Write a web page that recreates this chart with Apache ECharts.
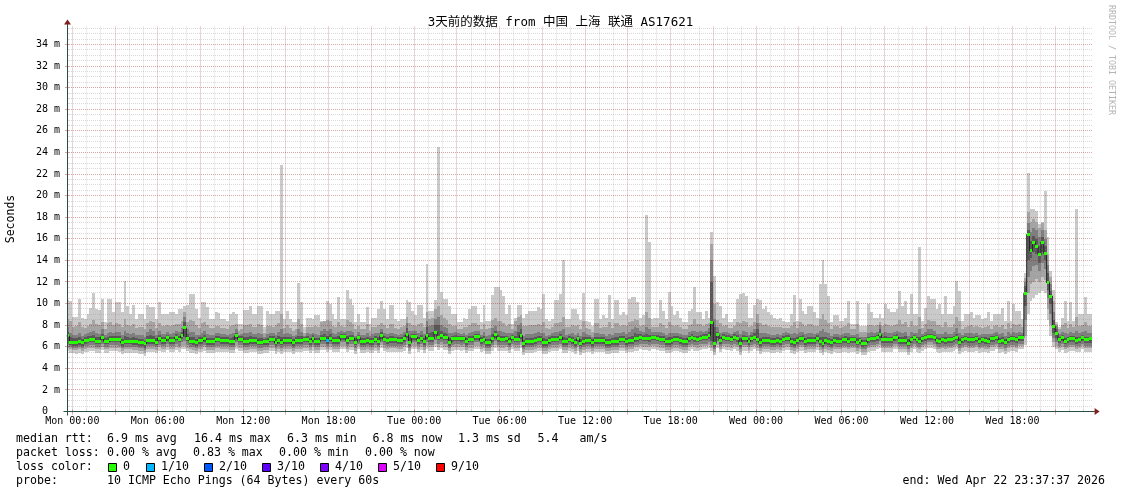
<!DOCTYPE html>
<html><head><meta charset="utf-8">
<script src="https://cdn.jsdelivr.net/npm/echarts@6/dist/echarts.min.js"></script>
<style>html,body{margin:0;padding:0;background:#fff}#c{width:1121px;height:494px}</style>
</head><body><div id="c"></div>
<script>
// ---------- data (hours relative to Mon 00:00; 12-minute steps) ----------
const STEP_START_H = -0.4;
const STEP_H = 0.2;
const X_MIN = -1343 / 3600;          // Sun 23:37:37
const X_MAX = 72 - 1343 / 3600;      // Wed 23:37:37
const Y_MAX = 35.67;
const dayNames = ['Mon', 'Tue', 'Wed'];
const xLabelHours = [0, 6, 12, 18, 24, 30, 36, 42, 48, 54, 60, 66];
const yLabelValues = [0, 2, 4, 6, 8, 10, 12, 14, 16, 18, 20, 22, 24, 26, 28, 30, 32, 34];

const medianRtt = [7.0,6.4,6.35,6.35,6.45,6.35,6.55,6.6,6.65,6.65,
6.5,6.5,6.9,6.5,6.5,6.65,6.65,6.65,6.65,6.36,
6.5,6.5,6.5,6.48,6.48,6.36,6.36,6.3,6.55,6.55,
6.55,6.42,6.8,6.57,6.57,6.85,6.57,6.57,6.88,6.67,
7.0,7.75,6.8,6.5,6.48,6.36,6.57,6.57,6.73,6.48,
6.48,6.48,6.64,6.64,6.57,6.57,6.57,6.48,6.48,7.0,
6.67,6.67,6.48,6.48,6.57,6.57,6.57,6.42,6.42,6.48,
6.48,6.67,6.67,6.36,6.57,6.42,6.57,6.57,6.57,6.36,
6.57,6.57,6.57,6.67,6.67,6.48,6.73,6.48,6.48,6.79,
6.79,6.57,6.79,6.57,6.57,6.57,6.94,6.94,6.57,6.79,
6.79,6.42,6.88,6.48,6.48,6.57,6.48,6.48,6.67,6.48,
7.04,6.67,6.57,6.64,6.64,6.64,6.57,6.57,6.73,7.1,
6.36,6.94,6.94,6.57,6.79,6.48,7.0,6.73,6.73,7.35,
6.88,7.04,6.88,6.88,6.36,6.73,6.79,6.79,6.73,6.79,
6.48,6.67,6.67,6.94,6.94,6.57,6.67,6.36,6.36,6.73,
7.1,6.73,6.67,6.67,6.73,6.48,6.88,6.67,6.67,7.04,
6.3,6.48,6.48,6.48,6.57,6.67,6.67,6.36,6.36,6.57,
6.67,6.67,6.67,6.88,6.48,6.48,6.67,6.57,6.36,6.73,
6.3,6.48,6.57,6.57,6.36,6.57,6.57,6.57,6.57,6.36,
6.36,6.48,6.48,6.48,6.67,6.67,6.48,6.57,6.57,6.73,
6.73,6.88,6.79,6.79,6.73,6.88,6.88,6.79,6.67,6.67,
6.48,6.48,6.57,6.67,6.67,6.57,6.48,6.48,6.73,6.88,
6.73,6.67,6.79,6.88,6.88,7.04,8.27,6.3,7.1,6.57,
6.88,6.79,6.79,6.67,6.88,6.73,6.3,6.73,6.73,6.48,
6.73,6.88,6.67,6.36,6.57,6.57,6.57,6.48,6.48,6.57,
6.48,6.67,6.79,6.79,6.48,6.36,6.57,6.73,6.73,6.48,
6.57,6.57,6.57,6.79,6.48,6.3,6.57,6.48,6.36,6.57,
6.52,6.52,6.64,6.64,6.52,6.64,6.64,6.42,6.57,6.3,
6.33,6.64,6.73,6.73,6.82,7.1,6.64,6.64,6.64,6.64,
6.82,6.88,6.57,6.57,6.57,6.33,6.64,6.88,6.64,6.52,
6.73,6.82,6.94,6.94,6.88,6.57,6.52,6.64,6.57,6.64,
6.64,6.73,6.88,6.42,6.64,6.73,6.64,6.64,6.64,6.73,
6.52,6.64,6.57,6.52,6.73,6.73,6.88,6.52,6.57,6.42,
6.64,6.73,6.73,6.64,6.82,6.82,10.96,16.4,14.9,15.7,
15.25,14.5,15.7,14.65,11.94,10.7,7.87,7.25,6.64,6.82,
6.52,6.64,6.73,6.73,6.57,6.64,6.82,6.64,6.64,6.8];

const ping10 = [10.3,10.2,8.8,8.8,10.4,8.7,8.6,9.0,9.6,11.0,
9.5,9.4,10.4,8.3,10.4,10.4,9.2,10.1,10.1,9.2,
12.1,9.8,9.0,9.9,8.6,9.0,9.0,8.6,9.9,9.7,
9.7,8.6,10.1,9.0,9.0,9.0,9.2,9.2,9.0,9.5,
9.5,9.8,9.9,10.9,10.9,9.5,8.7,10.1,10.1,9.7,
8.6,8.6,9.2,9.1,8.6,8.6,8.4,9.0,9.2,9.0,
8.1,8.1,9.4,9.4,9.8,9.0,9.0,9.8,9.8,7.8,
9.3,9.0,9.0,9.3,9.3,22.8,8.6,9.3,8.6,8.3,
8.3,11.9,10.1,7.8,8.7,8.7,8.6,8.9,8.9,8.4,
8.4,10.2,10.0,9.0,8.6,10.6,8.6,8.6,11.3,10.4,
9.9,8.3,9.0,8.3,8.3,9.7,8.1,8.7,8.7,9.5,
10.2,9.5,8.6,9.9,9.9,8.6,8.4,8.6,8.6,10.3,
10.1,9.35,8.9,9.9,9.9,8.7,13.7,9.35,9.35,10.3,
24.5,11.1,10.4,10.4,9.8,9.0,9.0,8.3,8.3,8.7,
8.6,9.5,9.8,9.8,9.0,8.3,9.9,8.4,8.4,10.8,
11.5,11.5,11.3,10.7,9.0,9.9,8.1,8.7,9.9,9.9,
8.7,9.0,9.35,9.35,9.35,9.66,9.5,10.9,8.6,8.4,
8.6,10.3,10.3,10.9,14.0,8.6,8.6,9.5,9.5,9.0,
8.5,11.0,8.4,8.3,7.96,10.4,10.4,8.6,8.9,8.7,
10.8,8.6,10.3,10.3,8.95,9.2,8.95,10.4,10.6,10.6,
10.1,8.7,8.9,18.2,15.7,8.6,8.7,8.7,10.3,9.35,
8.6,11.1,9.8,8.95,9.35,8.7,8.3,8.3,9.35,9.5,
11.5,9.2,9.2,8.6,9.35,8.7,16.6,12.6,10.1,9.8,
8.7,9.0,8.3,8.3,8.6,10.4,10.9,11.0,10.7,8.7,
8.7,9.9,10.4,10.3,9.5,9.8,9.2,8.9,8.7,8.6,
8.7,8.4,8.3,8.3,9.0,10.8,8.4,10.4,9.35,9.0,
9.8,9.8,9.2,8.7,11.8,14.0,11.8,10.7,8.3,8.9,
8.9,8.4,8.4,8.7,10.2,8.1,8.1,10.2,7.95,7.95,
7.95,10.0,9.2,8.7,8.7,9.0,8.7,10.0,9.5,9.2,
9.2,9.5,11.2,9.8,10.2,9.0,10.9,9.0,9.0,15.2,
8.4,9.6,10.7,10.4,10.4,9.5,9.95,9.0,10.7,9.0,
9.0,9.8,12.1,11.2,8.4,9.0,9.0,9.2,8.7,8.9,
8.9,8.6,8.7,9.2,8.4,9.0,9.0,9.0,9.6,8.4,
10.2,8.4,9.95,9.35,9.35,8.6,12.8,22.1,18.8,18.8,
18.6,17.4,17.6,20.4,16.2,13.0,11.3,8.3,7.8,8.7,
10.2,8.4,10.1,8.4,18.8,9.0,9.0,10.6,9.0,9.0];

const ping9 = [8.6,8.4,7.8,7.9,8.3,7.8,7.7,7.9,8.1,8.5,
8.1,8.0,8.3,7.6,8.2,8.3,8.0,8.2,8.1,7.8,
8.6,8.0,7.9,8.1,7.7,7.8,7.8,7.6,8.2,8.4,
8.3,7.7,8.2,7.9,7.9,8.0,7.9,8.0,8.1,8.1,
8.4,9.2,8.3,8.5,8.4,8.0,7.7,8.2,8.3,8.0,
7.7,7.7,7.9,7.9,7.7,7.7,7.6,7.9,8.0,8.1,
7.5,7.6,8.0,8.0,8.1,7.8,7.8,8.1,8.0,7.3,
7.9,7.9,7.8,8.0,8.2,9.0,7.7,8.0,7.7,7.5,
7.6,8.6,8.1,7.3,7.8,7.8,7.8,7.9,7.8,8.3,
8.4,8.5,8.4,7.9,7.8,8.3,7.9,7.8,8.5,8.3,
8.1,7.6,7.9,7.6,7.6,8.1,7.5,7.8,7.8,8.0,
8.2,8.0,7.7,8.1,8.1,7.7,7.6,7.8,7.9,8.8,
8.2,8.0,7.9,8.1,8.2,7.8,9.2,8.6,8.7,9.5,
9.8,8.9,8.7,8.5,8.1,7.9,7.9,7.6,7.6,7.8,
7.8,8.0,8.2,8.2,8.0,7.6,8.1,7.6,7.7,8.5,
8.7,8.4,8.4,8.2,7.9,8.1,7.6,8.4,8.8,8.9,
7.9,7.9,8.0,8.0,8.0,8.1,8.0,8.3,7.7,7.6,
7.8,8.2,8.2,8.3,8.8,7.8,7.8,8.0,7.9,8.0,
7.6,8.4,7.7,7.6,7.4,8.2,8.2,7.7,7.8,7.8,
8.3,7.7,8.2,8.2,7.9,8.0,7.9,8.3,8.4,8.6,
8.5,7.9,8.0,9.2,8.7,7.8,7.8,7.8,8.2,8.0,
7.7,8.3,8.0,7.9,8.0,7.8,7.6,7.6,8.0,8.1,
8.6,8.1,8.1,7.9,8.1,8.2,15.5,10.0,8.5,8.2,
7.9,8.0,7.7,7.7,7.9,8.3,8.2,8.4,8.3,7.8,
7.9,8.3,9.0,8.2,8.0,8.1,7.9,7.8,7.8,7.8,
7.8,7.7,7.7,7.7,7.9,8.3,7.7,8.3,8.1,7.9,
8.1,8.1,7.9,7.9,8.6,9.0,8.5,8.2,7.6,7.9,
7.9,7.7,7.8,7.9,8.2,7.6,7.6,8.1,7.4,7.4,
7.4,8.0,8.0,7.9,8.0,8.3,7.9,8.1,8.0,7.9,
8.0,8.1,8.5,8.1,8.3,7.8,8.4,7.9,7.9,8.8,
7.7,8.1,8.5,8.4,8.4,8.0,8.0,7.8,8.3,7.8,
7.8,8.1,8.8,8.4,7.6,7.8,7.9,8.0,7.8,7.9,
7.8,7.7,7.8,7.9,7.6,7.9,8.0,7.8,8.0,7.6,
8.2,7.7,8.1,8.0,8.1,7.8,12.4,18.5,17.6,17.8,
17.6,17.0,17.5,16.8,14.5,12.5,10.2,8.1,7.6,8.0,
8.2,7.7,8.1,7.8,8.8,7.9,8.0,8.3,7.9,7.9];

const ping8 = [7.8,7.3,7.1,7.1,7.3,7.0,7.2,7.3,7.4,7.5,
7.3,7.2,7.6,7.1,7.3,7.4,7.3,7.4,7.4,7.1,
7.5,7.3,7.2,7.3,7.1,7.1,7.1,6.9,7.4,7.6,
7.5,7.1,7.5,7.2,7.2,7.4,7.2,7.3,7.5,7.4,
7.7,8.8,7.6,7.4,7.4,7.1,7.1,7.3,7.5,7.2,
7.1,7.1,7.3,7.3,7.2,7.2,7.1,7.2,7.3,7.6,
7.1,7.2,7.3,7.3,7.4,7.2,7.2,7.3,7.2,6.9,
7.2,7.3,7.3,7.1,7.4,7.6,7.2,7.3,7.2,7.0,
7.1,7.6,7.4,7.0,7.3,7.2,7.3,7.2,7.1,7.5,
7.6,7.5,7.6,7.3,7.2,7.4,7.5,7.4,7.5,7.5,
7.4,7.0,7.4,7.1,7.1,7.3,7.0,7.2,7.3,7.3,
7.6,7.3,7.2,7.3,7.3,7.2,7.1,7.2,7.4,8.2,
7.5,7.5,7.5,7.3,7.5,7.2,8.4,7.9,8.0,8.6,
8.8,8.0,7.8,7.7,7.3,7.3,7.4,7.3,7.2,7.3,
7.1,7.3,7.4,7.5,7.5,7.1,7.4,7.0,7.1,7.7,
7.9,7.5,7.5,7.4,7.3,7.3,7.3,7.5,8.0,8.2,
7.0,7.2,7.2,7.2,7.3,7.4,7.3,7.3,7.0,7.1,
7.3,7.4,7.4,7.5,7.6,7.1,7.2,7.3,7.1,7.3,
7.0,7.4,7.2,7.1,6.9,7.3,7.3,7.2,7.2,7.0,
7.2,7.1,7.3,7.3,7.3,7.4,7.2,7.4,7.6,7.8,
7.7,7.5,7.4,7.8,7.6,7.4,7.4,7.4,7.4,7.3,
7.1,7.3,7.3,7.3,7.3,7.2,7.1,7.1,7.4,7.5,
7.5,7.4,7.5,7.4,7.5,7.7,14.0,8.6,7.8,7.3,
7.4,7.4,7.3,7.2,7.4,7.5,7.2,7.5,7.4,7.1,
7.4,7.6,8.2,7.3,7.3,7.3,7.2,7.1,7.1,7.2,
7.1,7.3,7.4,7.3,7.2,7.3,7.2,7.4,7.4,7.2,
7.3,7.3,7.2,7.3,7.5,7.6,7.4,7.3,7.0,7.2,
7.2,7.1,7.2,7.3,7.3,7.1,7.1,7.2,6.9,6.9,
6.9,7.3,7.4,7.3,7.4,8.0,7.3,7.4,7.3,7.3,
7.4,7.5,7.4,7.3,7.4,7.0,7.4,7.3,7.3,7.6,
7.2,7.4,7.6,7.6,7.5,7.2,7.2,7.2,7.4,7.2,
7.2,7.4,7.7,7.3,7.1,7.3,7.3,7.3,7.2,7.3,
7.1,7.2,7.2,7.2,7.2,7.3,7.4,7.2,7.3,7.0,
7.4,7.2,7.4,7.3,7.4,7.3,12.0,17.5,16.6,17.0,
16.8,16.2,16.8,16.0,13.6,11.8,9.2,7.9,7.2,7.4,
7.3,7.2,7.4,7.3,7.5,7.3,7.4,7.5,7.3,7.3];

const ping7 = [7.4,6.9,6.8,6.8,6.9,6.7,6.9,7.0,7.0,7.1,
6.9,6.9,7.2,6.8,6.9,7.0,7.0,7.0,7.0,6.7,
7.0,6.9,6.8,6.9,6.8,6.7,6.7,6.5,7.0,7.1,
7.0,6.8,7.1,6.9,6.9,7.1,6.9,6.9,7.2,7.0,
7.4,8.3,7.2,6.9,6.9,6.7,6.9,6.9,7.1,6.8,
6.8,6.8,7.0,7.0,6.9,6.9,6.9,6.8,6.9,7.3,
7.0,7.0,6.9,6.9,7.0,6.9,6.9,6.8,6.8,6.7,
6.8,7.0,7.0,6.8,7.0,6.9,6.9,6.9,6.9,6.7,
6.9,7.0,7.0,6.9,7.0,6.8,7.1,6.8,6.8,7.1,
7.2,7.0,7.2,6.9,6.9,7.0,7.2,7.2,7.0,7.1,
7.1,6.8,7.1,6.8,6.8,6.9,6.8,6.8,7.0,6.9,
7.4,7.0,6.9,7.0,7.0,6.9,6.9,6.9,7.1,7.7,
6.9,7.2,7.2,6.9,7.1,6.8,7.8,7.3,7.4,8.0,
8.0,7.5,7.3,7.2,6.8,7.0,7.1,7.0,7.0,7.0,
6.8,7.0,7.0,7.2,7.2,6.9,7.0,6.7,6.7,7.2,
7.5,7.1,7.0,7.0,7.0,6.8,7.1,7.0,7.4,7.6,
6.6,6.8,6.8,6.8,6.9,7.0,7.0,6.8,6.7,6.9,
7.0,7.0,7.0,7.2,6.9,6.8,7.0,6.9,6.7,7.0,
6.7,6.9,6.9,6.9,6.7,6.9,6.9,6.9,6.9,6.7,
6.7,6.8,6.9,6.9,7.0,7.0,6.8,6.9,7.0,7.3,
7.2,7.2,7.1,7.2,7.1,7.1,7.1,7.1,7.0,7.0,
6.8,6.9,6.9,7.0,7.0,6.9,6.8,6.8,7.0,7.2,
7.0,7.0,7.1,7.2,7.2,7.4,12.0,7.8,7.4,6.9,
7.2,7.1,7.1,7.0,7.2,7.1,6.8,7.1,7.0,6.8,
7.1,7.3,7.6,6.8,6.9,6.9,6.9,6.8,6.8,6.9,
6.8,7.0,7.1,7.1,6.8,6.8,6.9,7.0,7.1,6.8,
6.9,6.9,6.9,7.1,6.9,6.9,6.9,6.8,6.7,6.9,
6.9,6.8,6.9,7.0,6.9,6.9,6.9,6.8,6.8,6.6,
6.6,6.9,7.0,7.0,7.1,7.6,6.9,7.0,6.9,6.9,
7.1,7.2,6.9,6.9,7.0,6.7,6.9,7.1,6.9,6.9,
7.0,7.1,7.2,7.2,7.1,6.9,6.8,6.9,6.9,6.9,
6.9,7.0,7.2,6.8,6.9,7.0,6.9,6.9,6.9,7.0,
6.8,6.9,6.9,6.8,7.0,7.0,7.1,6.8,6.9,6.7,
6.9,7.0,7.0,6.9,7.1,7.1,11.6,16.8,15.8,16.3,
16.0,15.3,16.2,15.3,12.8,11.2,8.5,7.6,6.9,7.1,
6.8,6.9,7.0,7.0,6.9,6.9,7.1,6.9,6.9,6.9];

const ping4 = [6.5,6.15,6.1,6.1,6.2,6.1,6.3,6.35,6.4,6.4,
6.25,6.25,6.6,6.25,6.25,6.4,6.4,6.4,6.4,6.1,
6.25,6.25,6.25,6.2,6.2,6.1,6.1,5.9,6.3,6.3,
6.3,6.2,6.5,6.3,6.3,6.55,6.3,6.3,6.6,6.4,
6.7,6.9,6.5,6.25,6.2,6.1,6.3,6.3,6.45,6.2,
6.2,6.2,6.4,6.4,6.3,6.3,6.3,6.2,6.2,6.7,
6.4,6.4,6.2,6.2,6.3,6.3,6.3,6.15,6.15,6.2,
6.2,6.4,6.4,6.1,6.3,6.15,6.3,6.3,6.3,6.1,
6.3,6.3,6.3,6.4,6.4,6.2,6.45,6.2,6.2,6.5,
6.5,6.3,6.5,6.3,6.3,6.3,6.65,6.65,6.3,6.5,
6.5,6.15,6.6,6.2,6.2,6.3,6.2,6.2,6.4,6.2,
6.75,6.4,6.3,6.35,6.35,6.35,6.3,6.3,6.45,6.8,
6.1,6.65,6.65,6.3,6.5,6.2,6.7,6.45,6.45,7.0,
6.6,6.75,6.6,6.6,6.1,6.45,6.5,6.5,6.45,6.5,
6.2,6.4,6.4,6.65,6.65,6.3,6.4,6.1,6.1,6.45,
6.8,6.45,6.4,6.4,6.45,6.2,6.6,6.4,6.4,6.75,
6.0,6.2,6.2,6.2,6.3,6.4,6.4,6.1,6.1,6.3,
6.4,6.4,6.4,6.6,6.2,6.2,6.4,6.3,6.1,6.45,
6.05,6.2,6.3,6.3,6.1,6.3,6.3,6.3,6.3,6.1,
6.1,6.2,6.2,6.2,6.4,6.4,6.2,6.3,6.3,6.45,
6.45,6.6,6.5,6.5,6.45,6.6,6.6,6.5,6.4,6.4,
6.2,6.2,6.3,6.4,6.4,6.3,6.2,6.2,6.45,6.6,
6.45,6.4,6.5,6.6,6.6,6.75,6.5,6.0,6.8,6.3,
6.6,6.5,6.5,6.4,6.6,6.45,6.0,6.45,6.45,6.2,
6.45,6.6,6.4,6.1,6.3,6.3,6.3,6.2,6.2,6.3,
6.2,6.4,6.5,6.5,6.2,6.1,6.3,6.45,6.45,6.2,
6.3,6.3,6.3,6.5,6.2,6.0,6.3,6.2,6.1,6.3,
6.25,6.25,6.35,6.35,6.25,6.35,6.35,6.15,6.3,6.0,
6.05,6.35,6.45,6.45,6.55,6.8,6.35,6.35,6.35,6.35,
6.55,6.6,6.3,6.3,6.3,6.05,6.35,6.6,6.35,6.25,
6.45,6.55,6.65,6.65,6.6,6.3,6.25,6.35,6.3,6.35,
6.35,6.45,6.6,6.15,6.35,6.45,6.35,6.35,6.35,6.45,
6.25,6.35,6.3,6.25,6.45,6.45,6.6,6.25,6.3,6.15,
6.35,6.45,6.45,6.35,6.55,6.55,9.8,14.0,14.2,14.8,
14.6,13.8,14.8,14.0,11.3,10.0,7.3,6.8,6.35,6.55,
6.25,6.35,6.45,6.45,6.3,6.35,6.55,6.35,6.35,6.35];

const ping3 = [6.2,5.95,5.9,5.9,6.0,5.9,6.05,6.1,6.15,6.15,
6.0,6.0,6.3,6.0,6.0,6.15,6.15,6.15,6.1,5.9,
6.0,6.0,6.0,5.95,5.95,5.9,5.85,5.7,6.05,6.05,
6.05,5.95,6.2,6.05,6.05,6.25,6.05,6.05,6.3,6.1,
6.4,6.5,6.2,6.0,5.95,5.85,6.05,6.05,6.2,5.95,
5.95,5.95,6.1,6.1,6.05,6.05,6.05,5.95,5.95,6.4,
6.15,6.15,5.95,5.95,6.05,6.05,6.05,5.9,5.9,5.95,
5.95,6.15,6.15,5.85,6.05,5.9,6.05,6.05,6.05,5.85,
6.05,6.05,6.05,6.15,6.15,5.95,6.2,5.95,5.95,6.25,
6.25,6.05,6.25,6.05,6.05,6.05,6.4,6.4,6.05,6.25,
6.25,5.9,6.3,5.95,5.95,6.05,5.95,5.95,6.15,5.95,
6.45,6.15,6.05,6.1,6.1,6.1,6.05,6.05,6.2,6.5,
5.85,6.4,6.4,6.05,6.25,5.95,6.4,6.2,6.2,6.6,
6.3,6.45,6.3,6.3,5.85,6.2,6.25,6.25,6.2,6.25,
5.95,6.15,6.15,6.4,6.4,6.05,6.15,5.85,5.85,6.2,
6.5,6.2,6.15,6.15,6.2,5.95,6.3,6.15,6.15,6.45,
5.75,5.95,5.95,5.95,6.05,6.15,6.15,5.85,5.85,6.05,
6.15,6.15,6.15,6.3,5.95,5.95,6.15,6.05,5.85,6.2,
5.8,5.95,6.05,6.05,5.85,6.05,6.05,6.05,6.05,5.85,
5.85,5.95,5.95,5.95,6.15,6.15,5.95,6.05,6.05,6.2,
6.2,6.3,6.25,6.25,6.2,6.3,6.3,6.25,6.15,6.15,
5.95,5.95,6.05,6.15,6.15,6.05,5.95,5.95,6.2,6.3,
6.2,6.15,6.25,6.3,6.3,6.45,6.2,5.8,6.5,6.05,
6.3,6.25,6.25,6.15,6.3,6.2,5.8,6.2,6.2,5.95,
6.2,6.3,6.15,5.85,6.05,6.05,6.05,5.95,5.95,6.05,
5.95,6.15,6.25,6.25,5.95,5.85,6.05,6.2,6.2,5.95,
6.05,6.05,6.05,6.25,5.95,5.8,6.05,5.95,5.85,6.05,
6.0,6.0,6.1,6.1,6.0,6.1,6.1,5.9,6.05,5.75,
5.8,6.1,6.2,6.2,6.3,6.5,6.1,6.1,6.1,6.1,
6.3,6.3,6.05,6.05,6.05,5.8,6.1,6.3,6.1,6.0,
6.2,6.3,6.4,6.4,6.3,6.05,6.0,6.1,6.05,6.1,
6.1,6.2,6.3,5.9,6.1,6.2,6.1,6.1,6.1,6.2,
6.0,6.1,6.05,6.0,6.2,6.2,6.3,6.0,6.05,5.9,
6.1,6.2,6.2,6.1,6.3,6.3,8.5,12.5,13.0,13.5,
13.6,13.0,13.8,13.2,10.5,9.0,6.8,6.4,6.1,6.3,
6.0,6.1,6.2,6.2,6.05,6.1,6.3,6.1,6.1,6.1];

const ping2 = [5.9,5.75,5.7,5.7,5.75,5.65,5.8,5.85,5.9,5.9,
5.75,5.75,6.0,5.75,5.75,5.9,5.9,5.9,5.85,5.65,
5.75,5.75,5.75,5.7,5.7,5.65,5.6,5.45,5.8,5.8,
5.8,5.7,5.95,5.8,5.8,6.0,5.8,5.8,6.0,5.85,
6.1,6.1,5.9,5.75,5.7,5.6,5.8,5.8,5.95,5.7,
5.7,5.7,5.85,5.85,5.8,5.8,5.8,5.7,5.7,6.1,
5.9,5.9,5.7,5.7,5.8,5.8,5.8,5.65,5.65,5.7,
5.7,5.9,5.9,5.6,5.8,5.65,5.8,5.8,5.8,5.6,
5.8,5.8,5.8,5.9,5.9,5.7,5.95,5.7,5.7,6.0,
6.0,5.8,6.0,5.8,5.8,5.8,6.1,6.1,5.8,6.0,
6.0,5.65,6.05,5.7,5.7,5.8,5.7,5.7,5.9,5.7,
6.15,5.9,5.8,5.85,5.85,5.85,5.8,5.8,5.95,6.2,
5.6,6.1,6.1,5.8,6.0,5.7,6.1,5.95,5.95,6.3,
6.0,6.15,6.0,6.0,5.6,5.95,6.0,6.0,5.95,6.0,
5.7,5.9,5.9,6.1,6.1,5.8,5.9,5.6,5.6,5.95,
6.2,5.95,5.9,5.9,5.95,5.7,6.05,5.9,5.9,6.15,
5.5,5.7,5.7,5.7,5.8,5.9,5.9,5.6,5.6,5.8,
5.9,5.9,5.9,6.05,5.7,5.7,5.9,5.8,5.6,5.95,
5.55,5.7,5.8,5.8,5.6,5.8,5.8,5.8,5.8,5.6,
5.6,5.7,5.7,5.7,5.9,5.9,5.7,5.8,5.8,5.95,
5.95,6.05,6.0,6.0,5.95,6.05,6.05,6.0,5.9,5.9,
5.7,5.7,5.8,5.9,5.9,5.8,5.7,5.7,5.95,6.05,
5.95,5.9,6.0,6.05,6.05,6.2,5.9,5.55,6.2,5.8,
6.05,6.0,6.0,5.9,6.05,5.95,5.55,5.95,5.95,5.7,
5.95,6.05,5.9,5.6,5.8,5.8,5.8,5.7,5.7,5.8,
5.7,5.9,6.0,6.0,5.7,5.6,5.8,5.95,5.95,5.7,
5.8,5.8,5.8,6.0,5.7,5.55,5.8,5.7,5.6,5.8,
5.75,5.75,5.85,5.85,5.75,5.85,5.85,5.65,5.8,5.5,
5.55,5.85,5.95,5.95,6.05,6.2,5.85,5.85,5.85,5.85,
6.05,6.05,5.8,5.8,5.8,5.55,5.85,6.05,5.85,5.75,
5.95,6.05,6.15,6.15,6.05,5.8,5.75,5.85,5.8,5.85,
5.85,5.95,6.05,5.65,5.85,5.95,5.85,5.85,5.85,5.95,
5.75,5.85,5.8,5.75,5.95,5.95,6.05,5.75,5.8,5.65,
5.85,5.95,5.95,5.85,6.05,6.05,7.0,11.0,11.8,12.0,
12.3,12.0,12.5,12.2,9.5,8.0,6.4,6.1,5.85,6.0,
5.75,5.85,5.95,5.95,5.8,5.85,6.05,5.85,5.85,5.85];

const ping1 = [5.6,5.45,5.4,5.35,5.45,5.35,5.5,5.55,5.6,5.6,
5.45,5.45,5.7,5.45,5.45,5.6,5.6,5.6,5.55,5.35,
5.45,5.45,5.45,5.4,5.4,5.35,5.3,5.15,5.5,5.5,
5.5,5.4,5.65,5.5,5.5,5.7,5.5,5.5,5.7,5.55,
5.8,5.8,5.6,5.45,5.4,5.3,5.5,5.5,5.65,5.4,
5.4,5.4,5.55,5.55,5.5,5.5,5.5,5.4,5.4,5.8,
5.6,5.6,5.4,5.4,5.5,5.5,5.5,5.35,5.35,5.4,
5.4,5.6,5.6,5.3,5.5,5.35,5.5,5.5,5.5,5.3,
5.5,5.5,5.5,5.6,5.6,5.4,5.65,5.4,5.4,5.7,
5.7,5.5,5.7,5.5,5.5,5.5,5.8,5.8,5.5,5.7,
5.7,5.35,5.75,5.4,5.4,5.5,5.4,5.4,5.6,5.4,
5.85,5.6,5.5,5.55,5.55,5.55,5.5,5.5,5.65,5.9,
5.3,5.8,5.8,5.5,5.7,5.4,5.8,5.65,5.65,6.0,
5.7,5.85,5.7,5.7,5.3,5.65,5.7,5.7,5.65,5.7,
5.4,5.6,5.6,5.8,5.8,5.5,5.6,5.3,5.3,5.65,
5.9,5.65,5.6,5.6,5.65,5.4,5.75,5.6,5.6,5.85,
5.2,5.4,5.4,5.4,5.5,5.6,5.6,5.3,5.3,5.5,
5.6,5.6,5.6,5.75,5.4,5.4,5.6,5.5,5.3,5.65,
5.25,5.4,5.5,5.5,5.3,5.5,5.5,5.5,5.5,5.3,
5.3,5.4,5.4,5.4,5.6,5.6,5.4,5.5,5.5,5.65,
5.65,5.75,5.7,5.7,5.65,5.75,5.75,5.7,5.6,5.6,
5.4,5.4,5.5,5.6,5.6,5.5,5.4,5.4,5.65,5.75,
5.65,5.6,5.7,5.75,5.75,5.9,5.6,5.25,5.9,5.5,
5.75,5.7,5.7,5.6,5.75,5.65,5.25,5.65,5.65,5.4,
5.65,5.75,5.6,5.3,5.5,5.5,5.5,5.4,5.4,5.5,
5.4,5.6,5.7,5.7,5.4,5.3,5.5,5.65,5.65,5.4,
5.5,5.5,5.5,5.7,5.4,5.25,5.5,5.4,5.3,5.5,
5.45,5.45,5.55,5.55,5.45,5.55,5.55,5.35,5.5,5.2,
5.25,5.55,5.65,5.65,5.75,5.9,5.55,5.55,5.55,5.55,
5.75,5.75,5.5,5.5,5.5,5.25,5.55,5.75,5.55,5.45,
5.65,5.75,5.85,5.85,5.75,5.5,5.45,5.55,5.5,5.55,
5.55,5.65,5.75,5.35,5.55,5.65,5.55,5.55,5.55,5.65,
5.45,5.55,5.5,5.45,5.65,5.65,5.75,5.45,5.5,5.35,
5.55,5.65,5.65,5.55,5.75,5.75,6.2,9.0,10.2,10.5,
10.8,11.0,11.2,11.0,8.5,7.0,6.0,5.8,5.55,5.7,
5.45,5.55,5.65,5.65,5.5,5.55,5.75,5.55,5.55,5.55];

const lossStepIndex = [91];
const lossStepCount = [1];

const lossLevels = [0, 1, 2, 3, 4, 5, 9];
const lossLabels = ['0', '1/10', '2/10', '3/10', '4/10', '5/10', '9/10'];
const lossColors = ['#26ff00', '#00b8ff', '#0059ff', '#5e00ff', '#7e00ff', '#dd00ff', '#ff0000'];

const titleText = '3天前的数据 from 中国 上海 联通 AS17621';
const rttStats = ['6.9', '16.4', '6.3', '6.8', '1.3'];
const rttStatNames = ['avg', 'max', 'min', 'now', 'sd'];
const rttAmS = '5.4';
const lossStats = ['0.00', '0.83', '0.00', '0.00'];
const lossStatNames = ['avg', 'max', 'min', 'now'];
const probeText = '10 ICMP Echo Pings (64 Bytes) every 60s';
const endText = 'end: Wed Apr 22 23:37:37 2026';

// ---------- rendering ----------
const all = [medianRtt, ping10, ping9, ping8, ping7, ping4, ping3, ping2, ping1];
all.forEach((a, k) => { if (a.length !== 360) throw new Error('array ' + k + ' length ' + a.length); });

const FONT = "'DejaVu Sans Mono', 'Noto Sans CJK SC', monospace";
const GRID_C = 'rgba(140,140,140,0.32)';
const MGRID_C = 'rgba(150,30,30,0.38)';
const AXIS_C = '#2C4D43';
const ARROW_C = '#7F1F1F';

function stepSpan(i) {
  const a = STEP_START_H + i * STEP_H;
  return [Math.max(a, X_MIN), Math.min(a + STEP_H, X_MAX)];
}

const smokeLayers = [
  [ping1, ping10, '#cacaca'],
  [ping2, ping9, '#a4a4a4'],
  [ping3, ping8, '#7e7e7e'],
  [ping4, ping7, '#585858']
];

function rectItem(color) {
  return function (params, api) {
    const a = api.coord([api.value(0), api.value(3)]);
    const b = api.coord([api.value(1), api.value(2)]);
    const x0 = Math.round(a[0]), x1 = Math.round(b[0]);
    const yt = Math.round(Math.min(a[1], b[1])), yb = Math.round(Math.max(a[1], b[1]));
    return { type: 'rect', shape: { x: x0, y: yt, width: x1 - x0, height: Math.max(1, yb - yt) }, style: { fill: color } };
  };
}

const series = [];
smokeLayers.forEach(([lo, hi, color], k) => {
  series.push({
    type: 'custom', silent: true, animation: false, z: 2 + k,
    data: lo.map((v, i) => { const s = stepSpan(i); return [s[0], s[1], v, hi[i]]; }),
    encode: { x: [0, 1], y: [2, 3] },
    renderItem: rectItem(color)
  });
});

// grid lines (dotted), drawn above smoke
const vGrid = []; for (let h = 0; h <= 71; h++) vGrid.push([h, 0]);
const hGrid = []; for (let v = 0.5; v <= Y_MAX; v += 0.5) hGrid.push([0, v]);
series.push({
  type: 'custom', silent: true, animation: false, z: 7, data: vGrid, encode: { x: 0, y: 1 },
  renderItem: (params, api) => {
    const h = api.value(0);
    const pb = api.coord([h, 0]), pt = api.coord([h, Y_MAX]);
    const x = Math.floor(pb[0]) + 0.5;
    const major = h % 3 === 0;
    return { type: 'group', children: [
      { type: 'line', shape: { x1: x, y1: pt[1], x2: x, y2: pb[1] }, style: { stroke: major ? MGRID_C : GRID_C, lineWidth: 1, lineDash: [1, 1] } },
      { type: 'line', shape: { x1: x, y1: pb[1] - 2, x2: x, y2: pb[1] + (major ? 3 : 0) }, style: { stroke: major ? MGRID_C : GRID_C, lineWidth: 1 } }
    ] };
  }
});
series.push({
  type: 'custom', silent: true, animation: false, z: 7, data: hGrid, encode: { x: 0, y: 1 },
  renderItem: (params, api) => {
    const v = api.value(1);
    const pl = api.coord([X_MIN, v]), pr = api.coord([X_MAX, v]);
    const y = Math.floor(pl[1]) + 0.5;
    const major = Math.abs(v % 2) < 1e-9;
    return { type: 'group', children: [
      { type: 'line', shape: { x1: pl[0], y1: y, x2: pr[0], y2: y }, style: { stroke: major ? MGRID_C : GRID_C, lineWidth: 1, lineDash: [1, 1] } },
      { type: 'line', shape: { x1: pl[0] - (major ? 2 : 0), y1: y, x2: pl[0] + 2, y2: y }, style: { stroke: major ? MGRID_C : GRID_C, lineWidth: 1 } }
    ] };
  }
});

// median: dark step line + loss-coloured band
const medLine = medianRtt.map((v, i) => [STEP_START_H + i * STEP_H, v]);
medLine.push([STEP_START_H + 360 * STEP_H, medianRtt[359]]);
series.push({
  type: 'line', step: 'end', data: medLine, showSymbol: false, silent: true, animation: false, z: 8,
  lineStyle: { color: '#202020', width: 1 }, clip: true
});
const lossByStep = {}; lossStepIndex.forEach((s, k) => { lossByStep[s] = lossStepCount[k]; });
series.push({
  type: 'custom', silent: true, animation: false, z: 9,
  data: medianRtt.map((v, i) => { const s = stepSpan(i); return [s[0], s[1], v, lossByStep[i] || 0]; }),
  encode: { x: [0, 1], y: 2 },
  renderItem: (params, api) => {
    const a = api.coord([api.value(0), api.value(2)]);
    const b = api.coord([api.value(1), api.value(2)]);
    const loss = api.value(3);
    let ci = 0; lossLevels.forEach((l, k) => { if (loss >= l) ci = k; });
    const x0 = Math.round(a[0]), x1 = Math.round(b[0]);
    const y0 = Math.round(a[1] - 1.5);
    return { type: 'rect', shape: { x: x0, y: y0, width: x1 - x0, height: 3 }, style: { fill: lossColors[ci] } };
  }
});

function fmtTime(v) {
  const d = dayNames[Math.floor(v / 24)];
  const hh = String(v % 24).padStart(2, '0');
  return d + ' ' + hh + ':00';
}

const chart = echarts.init(document.getElementById('c'), null, { renderer: 'canvas' });
chart.setOption({
  backgroundColor: '#ffffff',
  animation: false,
  title: {
    text: titleText, left: 'center', top: 11,
    textStyle: { fontFamily: FONT, fontSize: 12.5, fontWeight: 'normal', color: '#000' }
  },
  grid: { left: 67, right: 28.4, top: 26.5, bottom: 82.5, containLabel: false, outerBoundsMode: 'none' },
  xAxis: {
    type: 'value', min: X_MIN, max: X_MAX,
    axisLine: { show: false }, axisTick: { show: false }, splitLine: { show: false },
    axisLabel: { customValues: xLabelHours, formatter: fmtTime, fontFamily: FONT, fontSize: 10, color: '#000', margin: 5 }
  },
  yAxis: {
    type: 'value', min: 0, max: Y_MAX,
    axisLine: { show: false }, axisTick: { show: false }, splitLine: { show: false },
    axisLabel: {
      customValues: yLabelValues,
      formatter: v => (v === 0 ? '0  ' : v + ' m'),
      fontFamily: FONT, fontSize: 10, color: '#000', margin: 7
    },
    name: 'Seconds', nameLocation: 'middle', nameGap: 50, nameRotate: 90,
    nameTextStyle: { fontFamily: FONT, fontSize: 11.5, color: '#000' }
  },
  series: series
});

// axes, arrows, legend text
const o = chart.convertToPixel({ gridIndex: 0 }, [X_MIN, 0]);
const e = chart.convertToPixel({ gridIndex: 0 }, [X_MAX, Y_MAX]);
const x0 = Math.floor(o[0]) + 0.5, y0 = Math.floor(o[1]) + 0.5;
const x1 = e[0], yTop = e[1];

function txt(x, y, text, extra) {
  return { type: 'text', x: x, y: y, silent: true, z: 100,
    style: Object.assign({ text: text, fill: '#000', font: '11.6px ' + FONT, align: 'left', verticalAlign: 'middle', textAlign: 'left', textVerticalAlign: 'middle' }, extra || {}) };
}

const g = [];
g.push({ type: 'line', z: 50, silent: true, shape: { x1: x0 - 4, y1: y0, x2: x1 + 4, y2: y0 }, style: { stroke: AXIS_C, lineWidth: 1 } });
g.push({ type: 'line', z: 50, silent: true, shape: { x1: x0, y1: y0 + 4, x2: x0, y2: yTop - 4 }, style: { stroke: AXIS_C, lineWidth: 1 } });
g.push({ type: 'polygon', z: 51, silent: true, shape: { points: [[x1 + 2, y0 - 3.5], [x1 + 2, y0 + 3.5], [x1 + 7, y0]] }, style: { fill: ARROW_C } });
g.push({ type: 'polygon', z: 51, silent: true, shape: { points: [[x0 - 3.5, yTop - 2], [x0 + 3.5, yTop - 2], [x0, yTop - 7]] }, style: { fill: ARROW_C } });

// watermark
g.push({ type: 'text', x: 1111, y: 60, rotation: -Math.PI / 2, silent: true,
  style: { text: 'RRDTOOL / TOBI OETIKER', fill: '#b4b4b4', font: '8.3px ' + FONT, align: 'center', verticalAlign: 'middle', textAlign: 'center', textVerticalAlign: 'middle' } });

const L1 = 438.5, L2 = 452.5, L3 = 466.5, L4 = 480.5;
g.push(txt(16, L1, 'median rtt:'));
const rttX = [107, 194, 287, 372.5, 458];
rttStats.forEach((v, k) => g.push(txt(rttX[k], L1, v + ' ms ' + rttStatNames[k])));
g.push(txt(537.5, L1, rttAmS));
g.push(txt(579.6, L1, 'am/s'));

g.push(txt(16, L2, 'packet loss:'));
const lossX = [107, 193, 279, 365];
lossStats.forEach((v, k) => g.push(txt(lossX[k], L2, v + ' % ' + lossStatNames[k])));

g.push(txt(16, L3, 'loss color:'));
const sqX = [108, 146, 204, 262, 320, 378, 436];
lossColors.forEach((c, k) => {
  g.push({ type: 'rect', z: 100, silent: true, shape: { x: sqX[k] + 0.5, y: Math.round(L3 - 4) + 0.5, width: 8, height: 8 }, style: { fill: c, stroke: '#000', lineWidth: 1 } });
  g.push(txt(sqX[k] + 15, L3, lossLabels[k]));
});

g.push(txt(16, L4, 'probe:'));
g.push(txt(107, L4, probeText));
g.push(txt(1105, L4, endText, { align: 'right', textAlign: 'right' }));

chart.setOption({ graphic: { elements: g } });
</script>
</body></html>
